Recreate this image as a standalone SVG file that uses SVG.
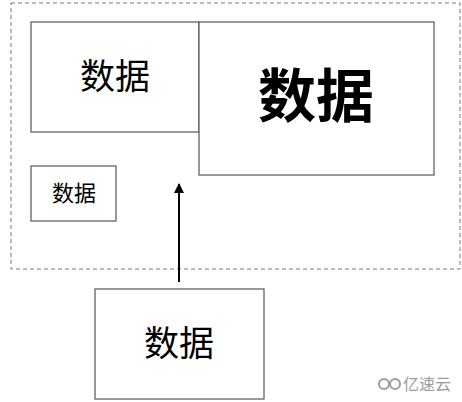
<svg xmlns="http://www.w3.org/2000/svg" width="462" height="402" viewBox="0 0 462 402">
<style>
.box{fill:#fff;stroke:#555;stroke-width:1.2}
.t{font-family:"Liberation Sans","Noto Sans CJK SC",sans-serif;fill:#000;text-anchor:middle;dominant-baseline:central}
.wm{font-family:"Noto Sans CJK SC",sans-serif;fill:#9a9ca3;font-size:16px}
</style>
<defs>
<marker id="ah" viewBox="0 0 10 10" refX="9" refY="5" markerWidth="5" markerHeight="5" orient="auto"><path d="M0,0 L10,5 L0,10 z" fill="#000"/></marker>
</defs>
<rect width="462" height="402" fill="#fff"/>
<g id="container"><rect x="11" y="3" width="449" height="266" fill="none" stroke="#777" stroke-width="1" stroke-dasharray="4,3"/></g>
<g id="node1"><rect class="box" x="31" y="22" width="168" height="110"/><text class="t" x="115" y="76" font-size="35">数据</text></g>
<g id="node2"><rect class="box" x="199" y="22" width="235" height="153"/><text class="t" x="316" y="96" font-size="58" font-weight="bold">数据</text></g>
<g id="node3"><rect class="box" x="31" y="166" width="85" height="55"/><text class="t" x="74" y="193" font-size="22">数据</text></g>
<g id="node4"><rect class="box" x="95" y="289" width="169" height="110"/><text class="t" x="179" y="343" font-size="35">数据</text></g>
<g id="connectors"><line x1="179" y1="282" x2="179" y2="184" stroke="#000" stroke-width="2" marker-end="url(#ah)"/></g>
<g id="watermark">
<circle cx="384" cy="384" r="5" fill="none" stroke="#9a9ca3" stroke-width="2"/>
<circle cx="395" cy="384" r="5" fill="none" stroke="#9a9ca3" stroke-width="2"/>
<text class="wm" x="403" y="390">亿速云</text>
</g>
</svg>
